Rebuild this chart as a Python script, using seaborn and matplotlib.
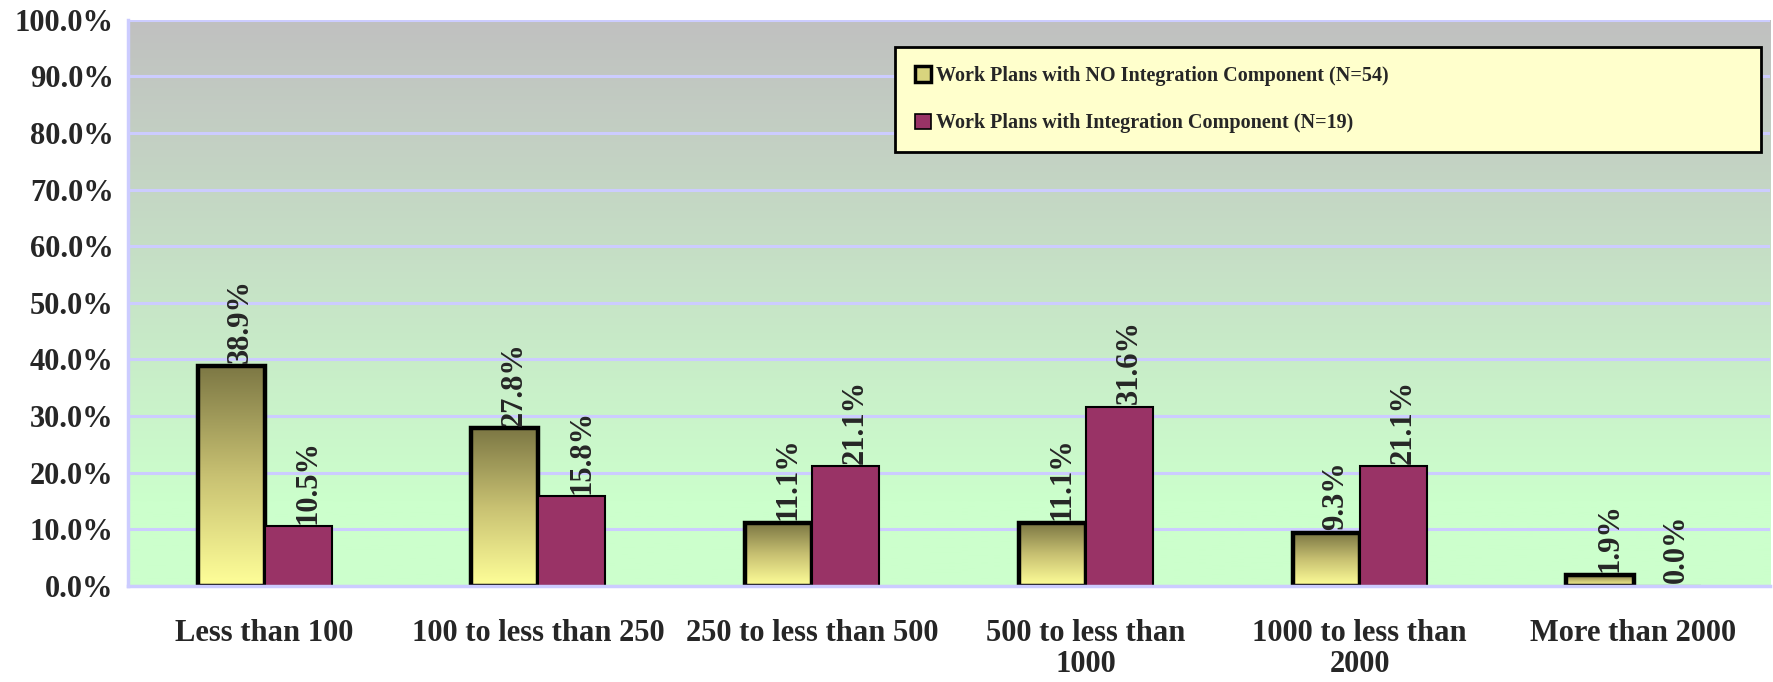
import numpy as np
import pandas as pd
import matplotlib
matplotlib.use("Agg")
import matplotlib.pyplot as plt
from matplotlib.colors import LinearSegmentedColormap
from matplotlib.patches import Patch
from matplotlib.ticker import FixedLocator, FuncFormatter
import seaborn as sns

# Work plan size categories and the share of plans in each
categories = ["Less than 100", "100 to less than 250", "250 to less than 500",
              "500 to less than\n1000", "1000 to less than\n2000", "More than 2000"]
no_integration = [38.9, 27.8, 11.1, 11.1, 9.3, 1.9]
with_integration = [10.5, 15.8, 21.1, 31.6, 21.1, 0.0]
series_names = ["Work Plans with NO Integration Component (N=54)",
                "Work Plans with Integration Component (N=19)"]
y_ticks = [0, 10, 20, 30, 40, 50, 60, 70, 80, 90, 100]

df = pd.DataFrame({
    "category": categories * 2,
    "series": [series_names[0]] * len(categories) + [series_names[1]] * len(categories),
    "value": no_integration + with_integration,
})

sns.set_theme(style="white")
plt.rcParams["font.family"] = ["Liberation Serif", "DejaVu Serif"]
plt.rcParams["font.weight"] = "bold"

GRID = "#ccccff"
MAROON = "#993366"

fig = plt.figure(figsize=(17.74, 6.82), dpi=100)
ax = fig.add_axes([0.072, 0.141, 0.926, 0.830])

sns.barplot(data=df, x="category", y="value", hue="series", order=categories,
            hue_order=series_names, palette=["#ffff99", MAROON], width=0.49,
            gap=0, ax=ax, legend=False, saturation=1)

ax.set_xlim(-0.5, len(categories) - 0.5)
ax.set_ylim(0, 100)

# plot-area background: grey at the top fading to pale green
bg_cmap = LinearSegmentedColormap.from_list(
    "bg", [(0.0, "#c0c0c0"), (0.85, "#ccffcc"), (1.0, "#ccffcc")])
grad = np.linspace(0, 1, 256).reshape(-1, 1)
ax.imshow(grad, cmap=bg_cmap, extent=[0, 1, 0, 1], transform=ax.transAxes,
          aspect="auto", zorder=-10, origin="upper")

# first series: olive-to-yellow gradient in each bar with heavy outline
bar_cmap = LinearSegmentedColormap.from_list(
    "bar", [(0.0, "#7c7744"), (0.5, "#c8c172"), (1.0, "#ffff99")])
for p in ax.containers[0]:
    x0, w, h = p.get_x(), p.get_width(), p.get_height()
    if h > 0:
        im = ax.imshow(grad, cmap=bar_cmap, extent=[x0, x0 + w, 0, h],
                       aspect="auto", zorder=1.5, origin="upper")
        im.set_clip_path(p)
    p.set_facecolor("none")
    p.set_edgecolor("black")
    p.set_linewidth(3.2)
    p.set_zorder(2)
for p in ax.containers[1]:
    p.set_edgecolor("black")
    p.set_linewidth(1.5)
    p.set_zorder(2)

ax.set_xlim(-0.5, len(categories) - 0.5)
ax.set_ylim(0, 100)

# value labels above each bar
for cont, vals in zip(ax.containers, [no_integration, with_integration]):
    for p, v in zip(cont, vals):
        ax.annotate(f"{v:.1f}%", xy=(p.get_x() + p.get_width() / 2, v),
                    xytext=(7, 2), textcoords="offset points", rotation=90,
                    ha="center", va="bottom", fontsize=22, fontweight="bold",
                    zorder=5)

# gridlines and axes
ax.yaxis.set_major_locator(FixedLocator(y_ticks))
ax.yaxis.set_major_formatter(FuncFormatter(lambda v, _: f"{v:.1f}%"))
ax.grid(axis="y", color=GRID, linewidth=2.2)
ax.grid(axis="x", visible=False)
ax.set_axisbelow(True)

ax.set_xticks(np.arange(-0.5, len(categories), 1.0))
ax.set_xticklabels([])
ax.set_xticks(np.arange(len(categories)), minor=True)
ax.set_xticklabels(categories, minor=True, fontsize=22, fontweight="bold",
                   linespacing=1.1)
ax.tick_params(axis="x", which="major", length=9, width=2, color=GRID,
               direction="out")
ax.tick_params(axis="x", which="minor", length=0, pad=24)
ax.tick_params(axis="y", length=10, width=2, color=GRID, direction="out",
               labelsize=22, pad=0)
for lbl in ax.get_yticklabels():
    lbl.set_fontweight("bold")
for lbl in ax.get_xticklabels(minor=True):
    lbl.set_verticalalignment("top")

for side in ["top", "right"]:
    ax.spines[side].set_visible(False)
for side in ["left", "bottom"]:
    ax.spines[side].set_color(GRID)
    ax.spines[side].set_linewidth(2.5)
ax.set_xlabel("")
ax.set_ylabel("")

# legend
handles = [Patch(facecolor="#d8d47e", edgecolor="black", linewidth=2.5),
           Patch(facecolor=MAROON, edgecolor="black", linewidth=1.2)]
leg = ax.legend(handles, series_names, loc="upper left",
                bbox_to_anchor=(0.4673, 0.942, 0.5267, 0.01), mode="expand",
                fontsize=14.5, frameon=True, fancybox=False, borderpad=0.95,
                handlelength=0.8, handleheight=0.8, handletextpad=0.25,
                labelspacing=1.35, borderaxespad=0)
leg.get_frame().set_facecolor("#ffffcc")
leg.get_frame().set_edgecolor("black")
leg.get_frame().set_linewidth(2)
leg.get_frame().set_alpha(1)
leg._legend_box.align = "left"
for t in leg.get_texts():
    t.set_fontweight("bold")

fig.savefig("out.png", dpi=100, facecolor="white")
